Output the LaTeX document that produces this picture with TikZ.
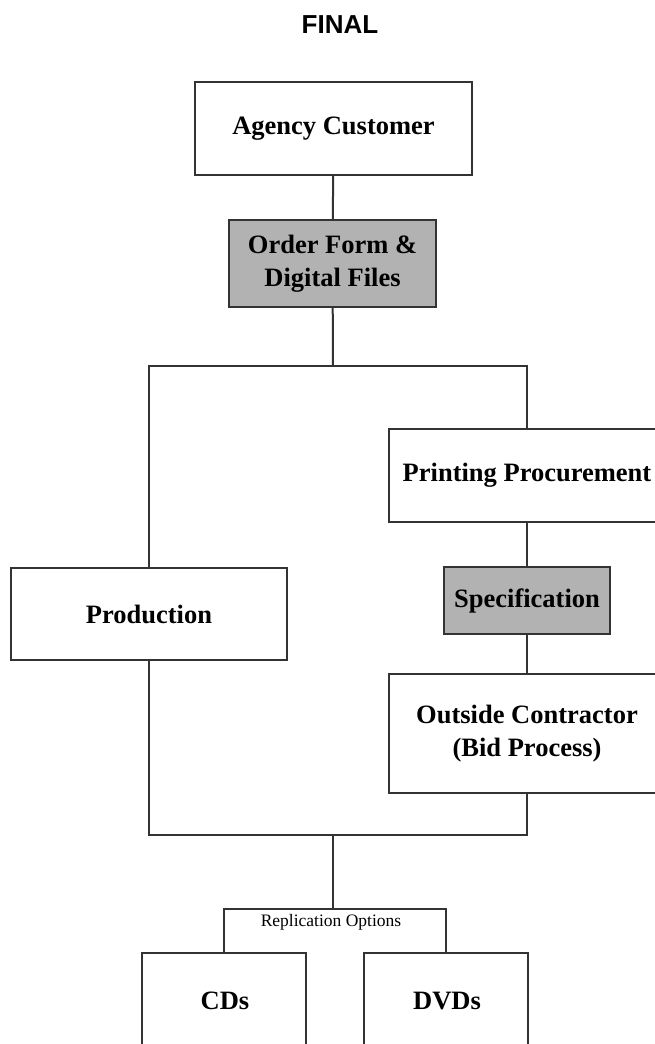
\documentclass[tikz,border=0pt]{standalone}
\usepackage{fontspec}
\setmainfont{Liberation Serif}
\newfontfamily\titlefont{Liberation Sans}
\begin{document}
\begin{tikzpicture}[x=1pt,y=-1pt,
  line/.style={draw=black!80, line width=2pt},
  box/.style={line, fill=white, rectangle, inner sep=0pt, align=center,
    font=\fontsize{26.5}{33}\selectfont\bfseries},
  graybox/.style={box, fill=black!30},
  wh/.style 2 args={minimum width=#1, minimum height=#2}]
\useasboundingbox (0,0) rectangle (655,1044);
\clip (0,0) rectangle (655,1044);
\fill[white] (0,0) rectangle (655,1044);

\node[font=\titlefont\fontsize{26}{30}\selectfont\bfseries] (title) at (340,25) {FINAL};

\node[box, wh={277}{93}] (agency) at (333.5,128.5) {Agency Customer};
\node[graybox, wh={207}{87}] (order) at (332.5,263.5) {Order Form \&\\Digital Files};
\node[box, wh={276}{92}] (prod) at (149,614) {Production};
\node[box, wh={276}{93}] (print) at (527,475.5) {Printing Procurement};
\node[graybox, wh={166}{67}] (spec) at (527,600.5) {Specification};
\node[box, wh={276}{119}] (outside) at (527,733.5) {Outside Contractor\\(Bid Process)};
\node[box, wh={164}{140}] (cds) at (224,1023) {};
\node[box, wh={164}{140}] (dvds) at (446,1023) {};
\node[font=\fontsize{26.5}{33}\selectfont\bfseries] (cdst) at (225,1001) {CDs};
\node[font=\fontsize{26.5}{33}\selectfont\bfseries] (dvdst) at (447,1001) {DVDs};

\coordinate (topmid) at (333,366);
\coordinate (topl) at (149,366);
\coordinate (topr) at (527,366);
\coordinate (botl) at (149,835);
\coordinate (botr) at (527,835);
\coordinate (botmid) at (333,835);
\coordinate (repmid) at (333,909);
\coordinate (repl) at (224,909);
\coordinate (repr) at (446,909);

\draw[line] (agency) -- (order);
\draw[line] (order) -- (topmid);
\draw[line] (prod.north) -- (topl) -- (topr) -- (print.north);
\draw[line] (print) -- (spec);
\draw[line] (spec) -- (outside);
\draw[line] (prod.south) -- (botl) -- (botr) -- (outside.south);
\draw[line] (botmid) -- (repmid);
\draw[line] (cds.north) -- (repl) -- (repr) -- (dvds.north);
\node[font=\fontsize{17.5}{20}\selectfont] (rep) at (331,922) {Replication Options};
\end{tikzpicture}
\end{document}
